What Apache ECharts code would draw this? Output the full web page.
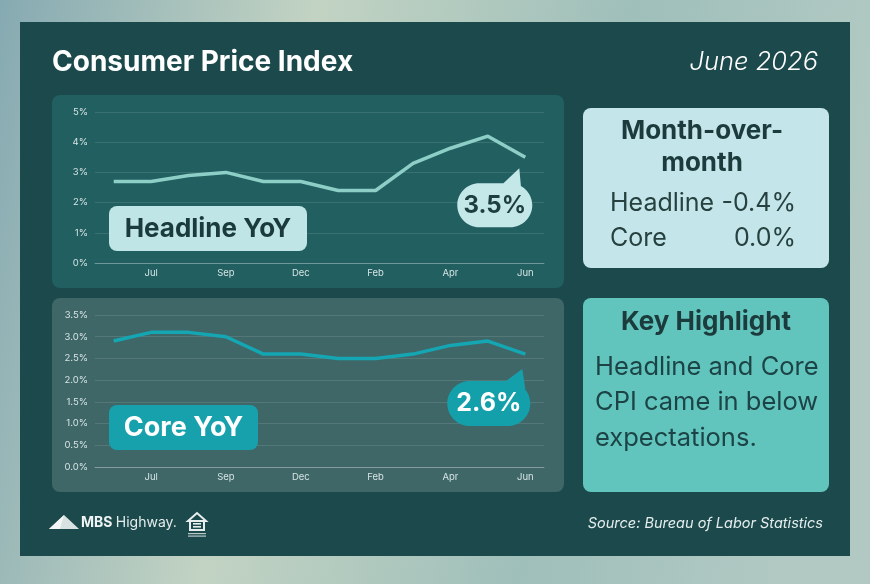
<!DOCTYPE html>
<html lang="en">
<head>
    <meta charset="UTF-8">
    <title>Consumer Price Index</title>
    <script src="https://cdn.jsdelivr.net/npm/echarts@6/dist/echarts.min.js"></script>
    <style>
        html, body { margin: 0; padding: 0; background: #9dbdb8; }
        #main { width: 870px; height: 584px; }
    </style>
</head>
<body>
<div id="main"></div>
<script>
    // months shown on both charts (Oct 2025 was not published)
    const months = ['Jun 2025', 'Jul 2025', 'Aug 2025', 'Sep 2025', 'Nov 2025', 'Dec 2025',
        'Jan 2026', 'Feb 2026', 'Mar 2026', 'Apr 2026', 'May 2026', 'Jun 2026'];
    const headline = [2.7, 2.7, 2.9, 3.0, 2.7, 2.7, 2.4, 2.4, 3.3, 3.8, 4.2, 3.5];
    const core = [2.9, 3.1, 3.1, 3.0, 2.6, 2.6, 2.5, 2.5, 2.6, 2.8, 2.9, 2.6];
    const momLabels = ['Headline', 'Core'];
    const momValues = [-0.4, 0.0];
    const highlightLines = ['Headline and Core', 'CPI came in below', 'expectations.'];

    const FONT = 'Inter, "Noto Sans", sans-serif';
    const last = months.length - 1;

    let chart = echarts.init(document.getElementById('main'));

    function axisPair(gridIndex, max, interval, fmt) {
        return {
            x: {
                type: 'category',
                gridIndex: gridIndex,
                data: months,
                boundaryGap: true,
                axisTick: { show: false },
                axisLine: { lineStyle: { color: 'rgba(255,255,255,0.28)' } },
                axisLabel: {
                    interval: function (i) { return i % 2 === 1; },
                    formatter: function (v) { return v.slice(0, 3); },
                    color: '#d6e4e4', fontSize: 9.5, fontFamily: FONT, margin: 5
                }
            },
            y: {
                type: 'value',
                gridIndex: gridIndex,
                min: 0, max: max, interval: interval,
                axisLabel: { formatter: fmt, color: '#d6e4e4', fontSize: 9.5, fontFamily: FONT, margin: 7 },
                splitLine: { lineStyle: { color: 'rgba(255,255,255,0.11)' } }
            }
        };
    }
    let headAxes = axisPair(0, 5, 1, function (v) { return v + '%'; });
    let coreAxes = axisPair(1, 3.5, 0.5, function (v) { return v.toFixed(1) + '%'; });

    function text(x, y, str, font, fill, align, extra) {
        return Object.assign({
            type: 'text', x: x, y: y, z: 10,
            style: { text: str, font: font, fill: fill, align: align || 'left', verticalAlign: 'middle',
                textAlign: align || 'left', textVerticalAlign: 'middle' }
        }, extra || {});
    }
    function box(x, y, w, h, fill, r, z) {
        return { type: 'rect', z: z, shape: { x: x, y: y, width: w, height: h, r: r }, style: { fill: fill } };
    }

    let graphics = [
        {
            type: 'rect', z: -10, shape: { x: 0, y: 0, width: 870, height: 584 },
            style: {
                fill: { type: 'linear', x: 0, y: 0, x2: 1, y2: 0.3, colorStops: [
                    { offset: 0, color: '#86aab2' }, { offset: 0.35, color: '#c2d3c3' },
                    { offset: 0.7, color: '#9fbfba' }, { offset: 1, color: '#b2c9c3' }] }
            }
        },
        box(20, 22, 830, 534, '#1c4a4c', 0, -9),
        box(52, 95, 512, 193, '#215f61', 8, -8),
        box(52, 298, 512, 194, '#3f6768', 8, -8),
        box(583, 108, 246, 160, '#c4e6ea', 8, -8),
        box(583, 298, 246, 194, '#62c5bd', 8, -8),
        text(52, 63, 'Consumer Price Index', 'bold 28px ' + FONT, '#ffffff'),
        text(818, 62, 'June 2026', 'italic 300 25.5px ' + FONT, '#ffffff', 'right'),
        box(109, 206, 198, 45, '#bfe5e6', 8, 5),
        text(208, 229, 'Headline YoY', 'bold 26px ' + FONT, '#1b3a3c', 'center'),
        box(109, 405, 149, 45, '#16a1ac', 8, 5),
        text(183.5, 428, 'Core YoY', 'bold 27px ' + FONT, '#ffffff', 'center'),
        text(702, 131, 'Month-over-', 'bold 26px ' + FONT, '#1c3b3d', 'center'),
        text(702, 163, 'month', 'bold 26px ' + FONT, '#1c3b3d', 'center'),
        text(706, 322, 'Key Highlight', 'bold 26px ' + FONT, '#1c3b3d', 'center'),
        text(823, 524, 'Source: Bureau of Labor Statistics', 'italic 14.5px ' + FONT, '#e4eded', 'right'),
        { type: 'polygon', z: 10, shape: { points: [[49, 529], [64, 515], [79, 529]] }, style: { fill: '#d9e2e2' } },
        { type: 'polygon', z: 11, shape: { points: [[49, 529], [64, 515], [60, 529]] }, style: { fill: '#f2f6f6' } },
        {
            type: 'text', x: 81, y: 523, z: 10,
            style: {
                text: '{a|MBS} {b|Highway.}', verticalAlign: 'middle', textVerticalAlign: 'middle',
                rich: {
                    a: { font: 'bold 14px "Liberation Sans Narrow", ' + FONT, fill: '#f0f4f4' },
                    b: { font: '14px "Liberation Sans Narrow", ' + FONT, fill: '#e4ecec' }
                }
            }
        },
        { type: 'polygon', z: 10, shape: { points: [[188, 521], [197, 513], [206, 521]] }, style: { fill: 'none', stroke: '#e8eeee', lineWidth: 2 } },
        { type: 'rect', z: 10, shape: { x: 190, y: 521, width: 14, height: 9 }, style: { fill: 'none', stroke: '#e8eeee', lineWidth: 2 } },
        { type: 'rect', z: 10, shape: { x: 193, y: 523, width: 8, height: 1.6 }, style: { fill: '#e8eeee' } },
        { type: 'rect', z: 10, shape: { x: 193, y: 526, width: 8, height: 1.6 }, style: { fill: '#e8eeee' } },
        { type: 'rect', z: 10, shape: { x: 188, y: 533, width: 18, height: 1.2 }, style: { fill: '#b9c8c8' } },
        { type: 'rect', z: 10, shape: { x: 188, y: 535.5, width: 18, height: 1.2 }, style: { fill: '#b9c8c8' } }
    ];

    momLabels.forEach(function (name, i) {
        let y = 203 + i * 35;
        let v = momValues[i];
        graphics.push(text(610, y, name, '25px ' + FONT, '#26413f', 'left'));
        graphics.push(text(796, y, (v < 0 ? '-' : '') + Math.abs(v).toFixed(1) + '%', '25px ' + FONT, '#26413f', 'right'));
    });
    highlightLines.forEach(function (line, i) {
        graphics.push(text(595, 367 + i * 35.5, line, '25.5px ' + FONT, '#1c4446', 'left'));
    });

    let option = {
        animation: false,
        grid: [
            { left: 95, top: 112, width: 449, height: 151 },
            { left: 95, top: 315, width: 449, height: 152 }
        ],
        xAxis: [headAxes.x, coreAxes.x],
        yAxis: [headAxes.y, coreAxes.y],
        graphic: { elements: graphics },
        series: [
            {
                type: 'line', xAxisIndex: 0, yAxisIndex: 0, data: headline,
                symbol: 'none', lineStyle: { color: '#8dcfc6', width: 3.5 },
                markPoint: {
                    silent: true,
                    symbol: 'path://M22 15 L53 15 C65.15 15 75 24.85 75 37 C75 49.15 65.15 59 53 59 L22 59 C9.85 59 0 49.15 0 37 C0 24.85 9.85 15 22 15 Z M44 17 L62 0 L64 22 Z',
                    symbolSize: [75, 59],
                    symbolOffset: [-30.5, 40.5],
                    itemStyle: { color: '#c4e7e8' },
                    label: {
                        show: true, position: 'inside', offset: [0, 7.5],
                        formatter: function (p) { return p.value.toFixed(1) + '%'; },
                        fontSize: 24, fontWeight: 'bold', fontFamily: FONT, color: '#1d3d3f'
                    },
                    data: [{ coord: [last, headline[last]], value: headline[last] }]
                }
            },
            {
                type: 'line', xAxisIndex: 1, yAxisIndex: 1, data: core,
                symbol: 'none', lineStyle: { color: '#14a6b3', width: 3.5 },
                markPoint: {
                    silent: true,
                    symbol: 'path://M22.5 12 L60.5 12 C72.9 12 83 22.1 83 34.5 C83 46.9 72.9 57 60.5 57 L22.5 57 C10.1 57 0 46.9 0 34.5 C0 22.1 10.1 12 22.5 12 Z M56 14 L75 0 L78 20 Z',
                    symbolSize: [83, 57],
                    symbolOffset: [-36.5, 43.5],
                    itemStyle: { color: '#14a0ab' },
                    label: {
                        show: true, position: 'inside', offset: [0, 6],
                        formatter: function (p) { return p.value.toFixed(1) + '%'; },
                        fontSize: 25, fontWeight: 'bold', fontFamily: FONT, color: '#ffffff'
                    },
                    data: [{ coord: [last, core[last]], value: core[last] }]
                }
            }
        ]
    };
    chart.setOption(option);
</script>
</body>
</html>
